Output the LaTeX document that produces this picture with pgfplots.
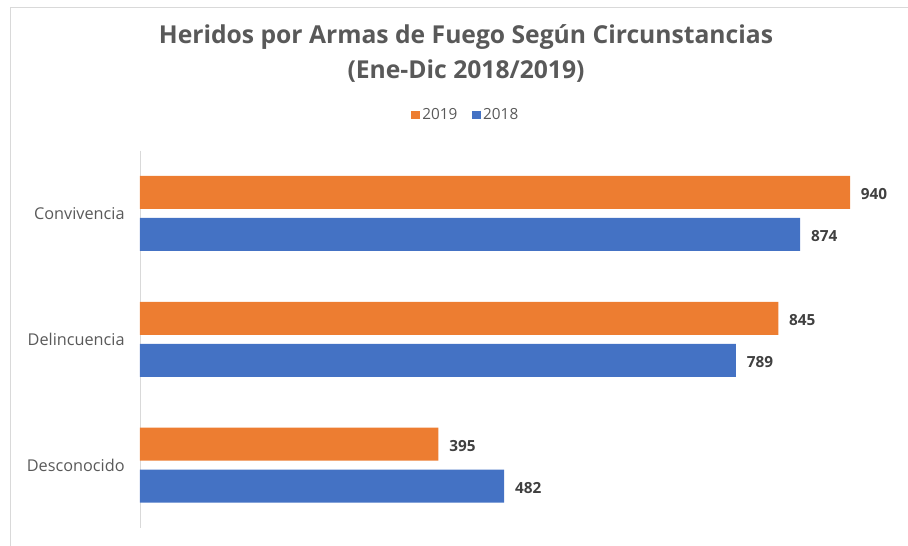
\documentclass[border=0pt]{standalone}
\usepackage{fontspec}
\setmainfont{Open Sans}
\usepackage{pgfplots}
\pgfplotsset{compat=1.18}
\definecolor{c19}{HTML}{ED7D31}
\definecolor{c18}{HTML}{4472C4}
\definecolor{txt}{HTML}{595959}
\definecolor{lbl}{HTML}{404040}
\definecolor{grd}{HTML}{D9D9D9}
\begin{document}
\begin{tikzpicture}
\path[use as bounding box] (0pt,0pt) rectangle (681pt,409.5pt);
\draw[grd] (7.5pt,-7.5pt) rectangle (690pt,404.25pt);
\node[anchor=base, font=\bfseries\fontsize{18.5}{21}\selectfont, text=txt, inner sep=0pt] at (349.5pt,376.5pt) {Heridos por Armas de Fuego Según Circunstancias};
\node[anchor=base, font=\bfseries\fontsize{18.5}{21}\selectfont, text=txt, inner sep=0pt] at (349.5pt,350.25pt) {(Ene-Dic 2018/2019)};
\begin{axis}[
  at={(105pt,13.5pt)}, anchor=south west, scale only axis,
  width=566.5pt, height=283.1pt,
  xbar, xmin=0, xmax=1000, ymin=-0.5, ymax=2.5, y dir=reverse,
  ytick={0,1,2}, yticklabels={Convivencia,Delincuencia,Desconocido},
  xtick=\empty, axis x line=none, axis y line*=left,
  axis line style={grd}, major tick length=0pt,
  yticklabel style={font=\fontsize{12.2}{14}\selectfont, text=txt, xshift=-8pt},
  bar width=24.75pt,
  /pgf/number format/assume math mode=true,
  nodes near coords, point meta=x,
  nodes near coords style={font=\bfseries\fontsize{11.5}{13}\selectfont, text=lbl, anchor=west, inner sep=0pt, xshift=8pt, yshift=-1.5pt},
  legend style={at={(0.4316,1.094)}, anchor=center, draw=none, fill=none, legend columns=2,
    font=\fontsize{11.5}{13}\selectfont, text=txt,
    /tikz/every even column/.append style={column sep=9pt}},
  legend image code/.code={\fill[#1] (0pt,-3.2pt) rectangle (6.4pt,3.2pt);},
]
\addplot[fill=c19, draw=none, bar shift=15.75pt] coordinates {(940,0) (845,1) (395,2)};
\addplot[fill=c18, draw=none, bar shift=-15.75pt] coordinates {(874,0) (789,1) (482,2)};
\legend{2019,2018}
\end{axis}
\end{tikzpicture}
\end{document}
